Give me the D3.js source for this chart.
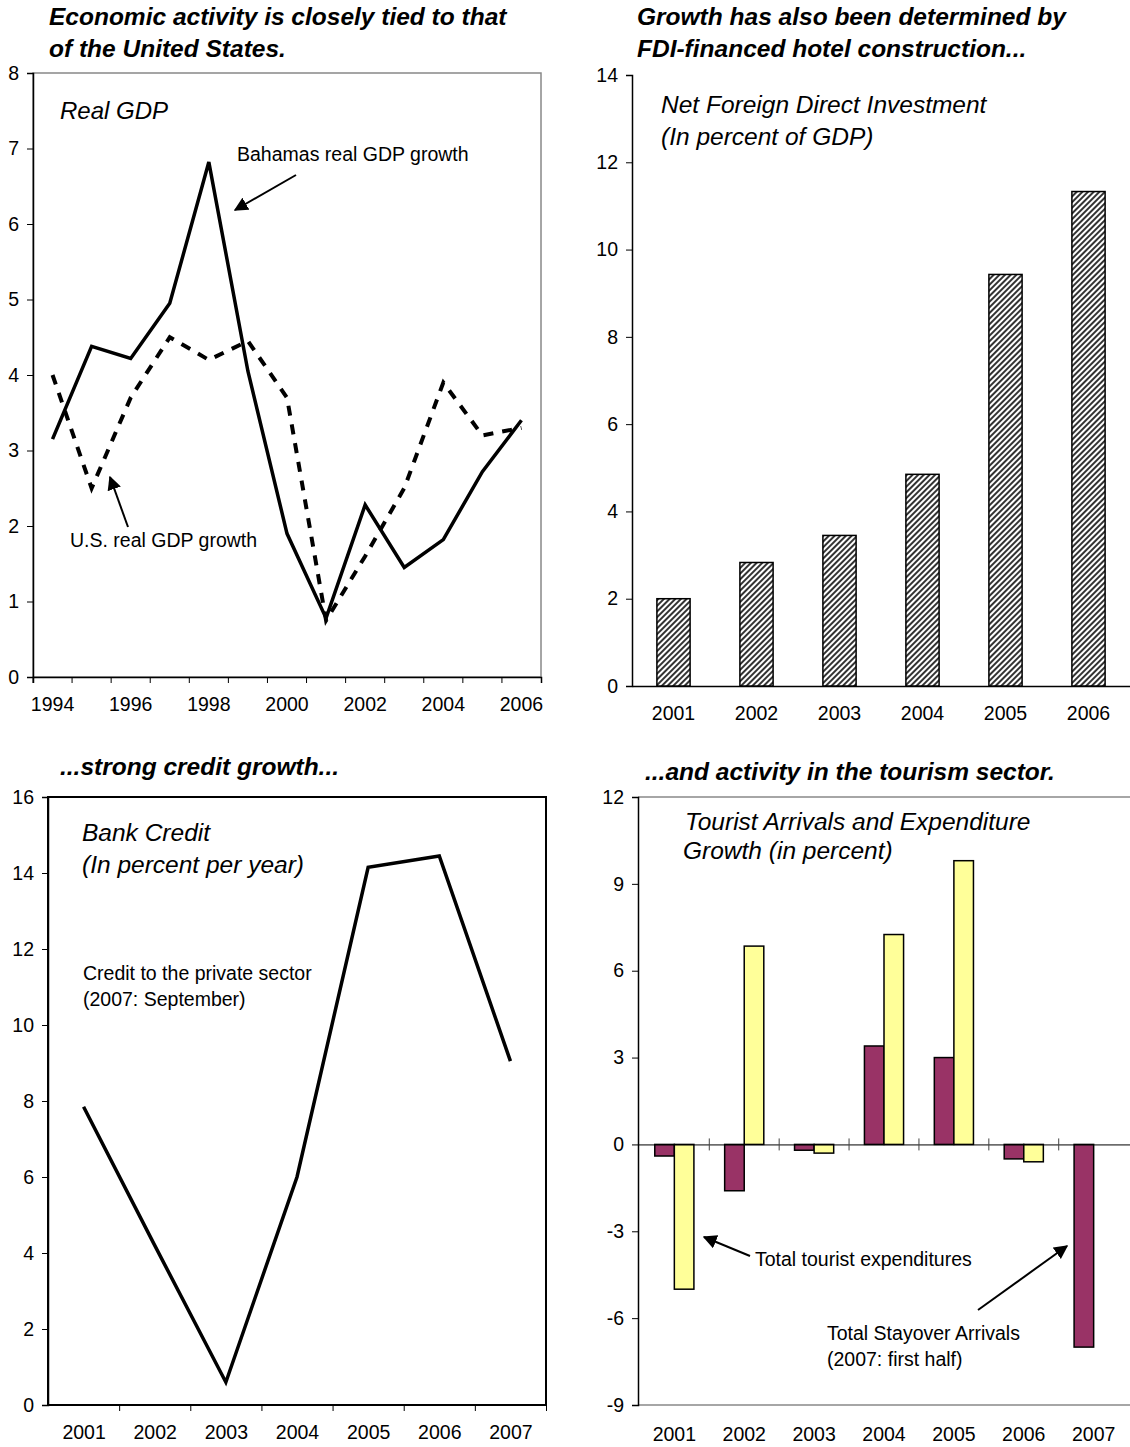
<!DOCTYPE html>
<html><head><meta charset="utf-8">
<script src="https://cdn.jsdelivr.net/npm/d3@7"></script>
<style>body{margin:0;background:#fff;font-family:"Liberation Sans",Arial,sans-serif}</style>
</head><body>
<svg id="c" width="1130" height="1447"></svg>
<script>
// data
var gdpYears = d3.range(1994, 2007);
var bahamasGdp = [3.15, 4.38, 4.22, 4.95, 6.82, 4.05, 1.9, 0.78, 2.28, 1.45, 1.82, 2.72, 3.4];
var usGdp = [4.0, 2.5, 3.7, 4.5, 4.2, 4.45, 3.7, 0.75, 1.6, 2.5, 3.9, 3.2, 3.3];
var fdiYears = ["2001","2002","2003","2004","2005","2006"];
var fdiValues = [2.0, 2.83, 3.45, 4.85, 9.43, 11.33];
var creditYears = ["2001","2002","2003","2004","2005","2006","2007"];
var creditValues = [7.85, 4.2, 0.6, 6.0, 14.15, 14.45, 9.05];
var tourYears = ["2001","2002","2003","2004","2005","2006","2007"];
var stayover = [-0.4, -1.6, -0.2, 3.4, 3.0, -0.5, -7.0];
var expenditure = [-5.0, 6.85, -0.3, 7.25, 9.8, -0.6, null];

var svg = d3.select("#c");
var defs = svg.append("defs");
var pat = defs.append("pattern").attr("id","hatch").attr("patternUnits","userSpaceOnUse")
  .attr("width",4).attr("height",4).attr("patternTransform","rotate(45)");
pat.append("rect").attr("width",4).attr("height",4).attr("fill","#fff");
pat.append("rect").attr("width",2).attr("height",4).attr("fill","#333");
defs.append("marker").attr("id","arr").attr("viewBox","0 0 10 10").attr("refX",9).attr("refY",5)
  .attr("markerWidth",7).attr("markerHeight",7).attr("orient","auto")
  .append("path").attr("d","M0,0L10,5L0,10z").attr("fill","#000");

var FS = 19.5; // tick/label size
var fmtNum = function(d){ return d < 0 ? "-" + Math.abs(d) : d; };

function title(x, y, lines, size, weight) {
  var t = svg.append("text").attr("x",x).attr("y",y).attr("font-size",size)
    .attr("font-style","italic").attr("font-weight",weight||"normal");
  lines.forEach(function(l,i){ t.append("tspan").attr("x",x).attr("dy", i?size*1.3:0).text(l); });
}
function label(x, y, lines, size) {
  var t = svg.append("text").attr("x",x).attr("y",y).attr("font-size",size);
  lines.forEach(function(l,i){ t.append("tspan").attr("x",x).attr("dy", i?size*1.35:0).text(l); });
}
function arrow(x1,y1,x2,y2){
  svg.append("line").attr("x1",x1).attr("y1",y1).attr("x2",x2).attr("y2",y2)
    .attr("stroke","#000").attr("stroke-width",2).attr("marker-end","url(#arr)");
}
function yAxis(y, x0, ticks) {
  var g = svg.append("g").attr("transform","translate("+x0+",0)")
    .call(d3.axisLeft(y).tickValues(ticks).tickSize(6).tickPadding(8).tickFormat(fmtNum));
  g.selectAll("text").attr("font-size",FS).attr("font-family","Liberation Sans, Arial").attr("fill","#000");
  g.select(".domain").attr("stroke","#000").attr("stroke-width",1.5);
  return g;
}

// panel 1: real GDP
(function(){
  var L=33,R=541,T=73,B=677;
  var x = d3.scaleBand().domain(gdpYears).range([L,R]);
  var y = d3.scaleLinear().domain([0,8]).range([B,T]);
  svg.append("rect").attr("x",L).attr("y",T).attr("width",R-L).attr("height",B-T)
    .attr("fill","none").attr("stroke","#888").attr("stroke-width",1.5);
  yAxis(y, L, d3.range(0,9));
  var g = svg.append("g").attr("transform","translate(0,"+B+")")
    .call(d3.axisBottom(x).tickSize(6).tickFormat(function(d){return d%2===0?d:"";}));
  g.selectAll(".tick line").attr("transform","translate("+(-x.bandwidth()/2)+",0)");
  g.selectAll("text").attr("font-size",FS).attr("dy","1.3em").attr("font-family","Liberation Sans, Arial").attr("fill","#000");
  g.select(".domain").attr("stroke","#000").attr("stroke-width",1.5);
  var line = d3.line().x(function(d,i){return x(gdpYears[i])+x.bandwidth()/2;}).y(function(d){return y(d);});
  svg.append("path").attr("d",line(usGdp)).attr("fill","none").attr("stroke","#000")
    .attr("stroke-width",4).attr("stroke-dasharray","10,9");
  svg.append("path").attr("d",line(bahamasGdp)).attr("fill","none").attr("stroke","#000").attr("stroke-width",3.5);
  title(60,119,["Real GDP"],24);
  label(237,161,["Bahamas real GDP growth"],FS);
  arrow(296,175,235,210);
  label(70,547,["U.S. real GDP growth"],FS);
  arrow(128,527,110,477);
  title(49,25,["Economic activity is closely tied to that","of the United States."],24.5,"bold");
})();

// panel 2: FDI
(function(){
  var L=632,R=1130,T=75,B=686;
  var x = d3.scaleBand().domain(fdiYears).range([L,R]).paddingInner(0.6).paddingOuter(0.3);
  var y = d3.scaleLinear().domain([0,14]).range([B,T]);
  yAxis(y, L, d3.range(0,15,2));
  var g = svg.append("g").attr("transform","translate(0,"+B+")")
    .call(d3.axisBottom(x).tickSize(0).tickPadding(20));
  g.selectAll("text").attr("font-size",FS).attr("font-family","Liberation Sans, Arial").attr("fill","#000");
  g.select(".domain").attr("stroke","#000").attr("stroke-width",1.5);
  svg.selectAll(".fdi").data(fdiValues).enter().append("rect")
    .attr("x",function(d,i){return x(fdiYears[i]);}).attr("width",x.bandwidth())
    .attr("y",function(d){return y(d);}).attr("height",function(d){return B-y(d);})
    .attr("fill","url(#hatch)").attr("stroke","#000").attr("stroke-width",1.5);
  title(661,113,["Net Foreign Direct Investment","(In percent of GDP)"],24.5);
  title(637,25,["Growth has also been determined by","FDI-financed hotel construction..."],24.5,"bold");
})();

// panel 3: credit
(function(){
  var L=48,R=546,T=797,B=1405;
  var x = d3.scalePoint().domain(creditYears).range([L,R]).padding(0.5);
  var y = d3.scaleLinear().domain([0,16]).range([B,T]);
  svg.append("rect").attr("x",L).attr("y",T).attr("width",R-L).attr("height",B-T)
    .attr("fill","none").attr("stroke","#000").attr("stroke-width",2);
  yAxis(y, L, d3.range(0,17,2));
  var step = x.step();
  var g = svg.append("g").attr("transform","translate(0,"+B+")")
    .call(d3.axisBottom(x).tickSize(6));
  g.selectAll(".tick line").attr("transform","translate("+(step/2)+",0)");
  g.selectAll("text").attr("font-size",FS).attr("dy","1.3em").attr("font-family","Liberation Sans, Arial").attr("fill","#000");
  g.select(".domain").remove();
  var line = d3.line().x(function(d,i){return x(creditYears[i]);}).y(function(d){return y(d);});
  svg.append("path").attr("d",line(creditValues)).attr("fill","none").attr("stroke","#000").attr("stroke-width",3.5);
  title(82,841,["Bank Credit","(In percent per year)"],24.5);
  label(83,980,["Credit to the private sector","(2007: September)"],FS);
  title(60,775,["...strong credit growth..."],24.5,"bold");
})();

// panel 4: tourism
(function(){
  var L=638,R=1130,T=797,B=1405;
  var x = d3.scaleBand().domain(tourYears).range([L,R]).paddingInner(0.44).paddingOuter(0.24);
  var y = d3.scaleLinear().domain([-9,12]).range([B,T]);
  svg.append("line").attr("x1",L).attr("x2",R).attr("y1",T).attr("y2",T).attr("stroke","#888").attr("stroke-width",1.5);
  svg.append("line").attr("x1",L).attr("x2",R).attr("y1",B).attr("y2",B).attr("stroke","#888").attr("stroke-width",1.5);
  yAxis(y, L, d3.range(-9,13,3));
  var bw = x.bandwidth()/2;
  function bars(vals, off, col){
    svg.selectAll(null).data(vals.map(function(v,i){return {v:v,k:tourYears[i]};}).filter(function(d){return d.v!==null;}))
      .enter().append("rect")
      .attr("x",function(d){return x(d.k)+off;}).attr("width",bw)
      .attr("y",function(d){return y(Math.max(0,d.v));})
      .attr("height",function(d){return Math.abs(y(d.v)-y(0));})
      .attr("fill",col).attr("stroke","#000").attr("stroke-width",1.5);
  }
  bars(stayover,0,"#993366");
  bars(expenditure,bw,"#ffff99");
  var z = svg.append("g").attr("transform","translate(0,"+y(0)+")")
    .call(d3.axisBottom(x).tickSize(0).tickFormat(""));
  z.select(".domain").attr("stroke","#000");
  svg.selectAll(".zt").data(tourYears.slice(1)).enter().append("line")
    .attr("x1",function(d){return x(d)-x.step()*0.22;}).attr("x2",function(d){return x(d)-x.step()*0.22;})
    .attr("y1",y(0)-6).attr("y2",y(0)+6).attr("stroke","#444");
  var g = svg.append("g").attr("transform","translate(0,"+B+")")
    .call(d3.axisBottom(x).tickSize(0).tickPadding(22));
  g.selectAll("text").attr("font-size",FS).attr("font-family","Liberation Sans, Arial").attr("fill","#000");
  g.select(".domain").remove();
  title(685,830,["Tourist Arrivals and Expenditure"],24.5);
  title(683,859,["Growth (in percent)"],24.5);
  label(755,1266,["Total tourist expenditures"],FS);
  arrow(750,1256,704,1237);
  label(827,1340,["Total Stayover Arrivals","(2007: first half)"],FS);
  arrow(978,1310,1067,1246);
  title(645,780,["...and activity in the tourism sector."],24.5,"bold");
})();
</script>
</body></html>
